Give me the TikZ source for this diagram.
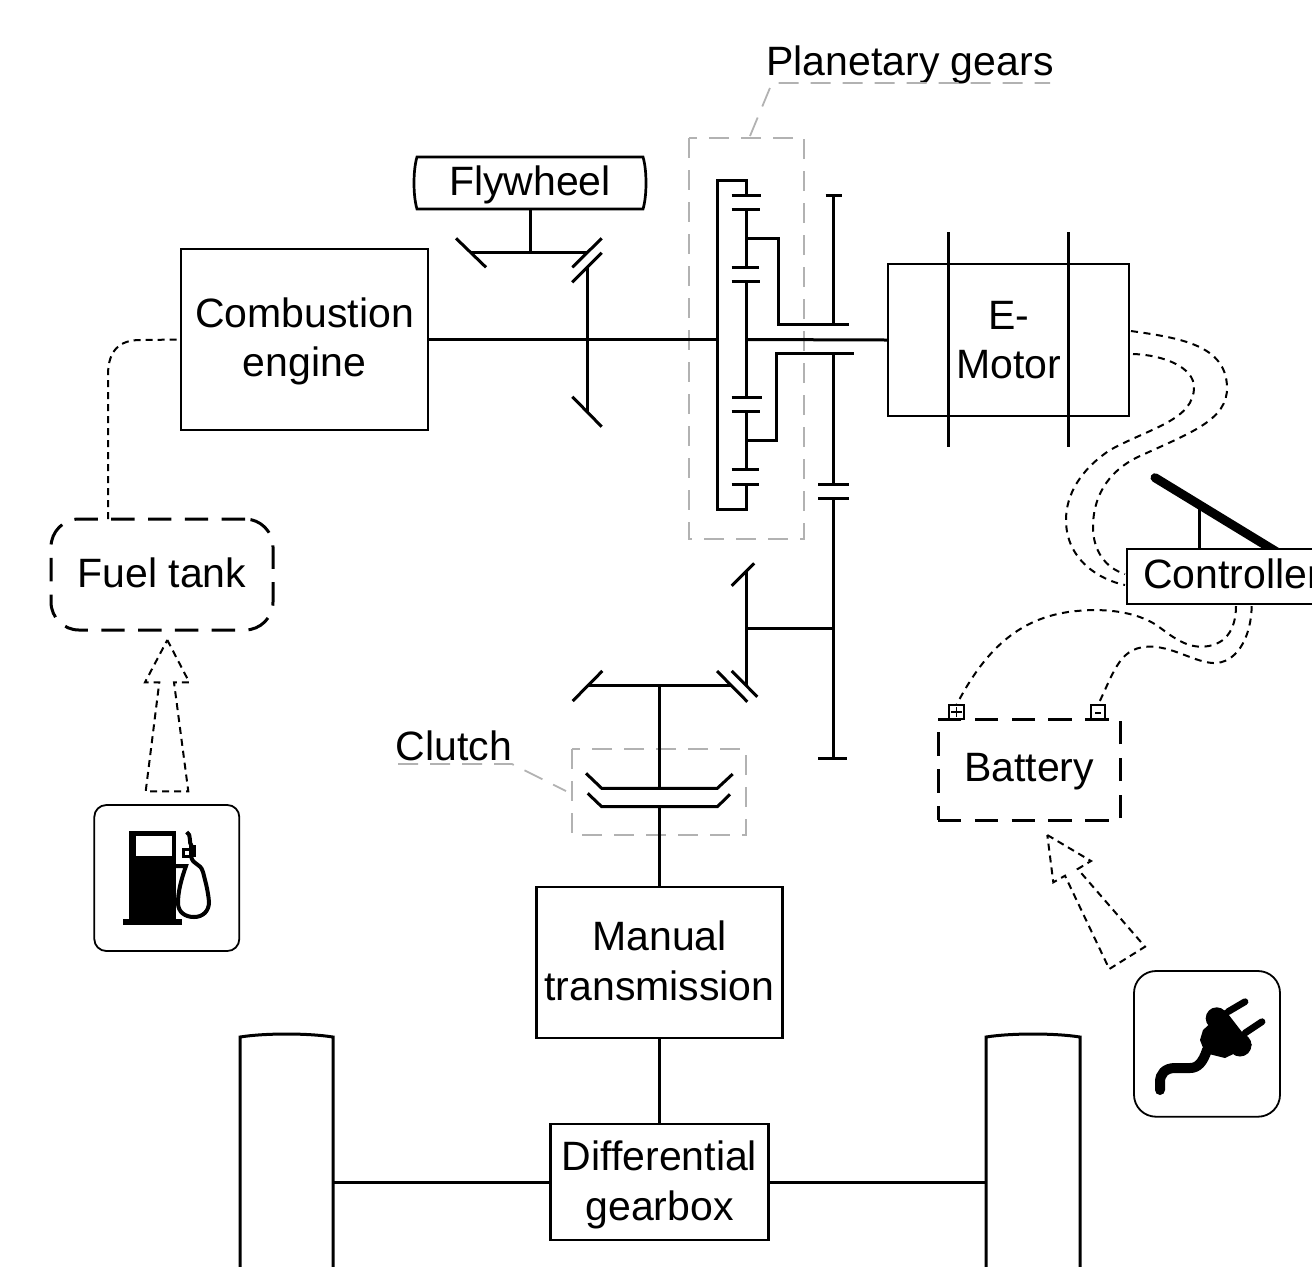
\documentclass[tikz,border=0pt]{standalone}
\usepackage{fontspec}
\setmainfont{Liberation Sans}
\usetikzlibrary{positioning}
\tikzset{
  unit/.style={draw, line width=1.35pt, inner sep=0pt, outer sep=0pt},
  inside/.style={inner sep=0pt, align=center},
  shaft/.style={line width=1.5pt, line join=miter},
  tank/.style={unit, line width=1.5pt, dash pattern=on 11.7pt off 6.7pt},
  cable/.style={line width=1pt, dash pattern=on 3.5pt off 2.8pt},
  feed/.style={line width=1pt, dash pattern=on 3.5pt off 2.5pt},
  marker/.style={line width=0.9pt, gray!60, dash pattern=on 10pt off 6pt},
  terminal/.style={draw, line width=0.9pt, inner sep=0pt, outer sep=0pt, minimum size=7.2pt},
  badge/.style={line width=0.9pt, rounded corners=8pt}
}

\begin{document}
\begin{tikzpicture}[x=0.5pt, y=-0.5pt, font=\fontsize{20.5}{24.8}\selectfont]
  \useasboundingbox (0,0) rectangle (1312,1266);
  \clip (0,0) rectangle (1312,1266);

  % main units
  \node[unit, minimum width=123.5pt, minimum height=90.5pt,
    label={[inside, yshift=-1pt]center:{Combustion\\engine}}] (engine) at (304.5,339.5) {};
  \node[unit, align=center, minimum width=120.5pt, minimum height=76pt] (motor) at (1008.5,340) {E-\\Motor};
  \node[unit, minimum width=123pt, minimum height=75.5pt,
    label={[inside, yshift=0.7pt]center:{Manual\\transmission}}] (transmission) at (659.5,962.5) {};
  \node[unit, minimum width=109pt, minimum height=58pt, below=43pt of transmission,
    label={[inside, yshift=-1.4pt]center:{Differential\\gearbox}}] (differential) {};
  \node[inner sep=0pt, outer sep=0pt, minimum width=115pt, minimum height=26.5pt] (flywheel) at (530,185) {Flywheel};
  \draw[line width=1.35pt] (417,157) -- (643,157) .. controls (647,170) and (647,196) .. (643,209)
    -- (417,209) .. controls (413,196) and (413,170) .. (417,157) -- cycle;

  % energy stores
  \node[tank, rounded corners=14pt, minimum width=111pt, minimum height=55.5pt,
    label={[inside, yshift=0.8pt]center:Fuel tank}] (fueltank) at (162,574.5) {};
  \node[tank, minimum width=91pt, minimum height=50.5pt,
    label={[inside, yshift=-1.2pt]center:Battery}] (battery) at (1029,769.5) {};
  \node[terminal] (plusT) at (956.5,712) {};
  \node[terminal] (minusT) at (1098,712) {};
  \draw[line width=0.9pt] (951,712) -- (962,712) (956.5,707) -- (956.5,717);
  \draw[line width=1.1pt] (1095,713) -- (1100.5,713);

  % labels and markers
  \node[inner sep=0pt] (planetlabel) at (910,65) {Planetary gears};
  \node[inner sep=0pt] (clutchlabel) at (454,746) {Clutch};
  \draw[marker] (689,138) rectangle (804,539);
  \draw[marker] (572,749) rectangle (746,835);
  \draw[marker] (750,136) -- (772,83) -- (1050,83);
  \draw[marker] (398,764) -- (512,764) -- (566,791);

  % flywheel branch
  \coordinate (flyB) at (530,209);
  \coordinate (flyT) at (530,252.5);
  \coordinate (flyR) at (587.3,339.5);
  \draw[shaft] (flyB) -- (flyT);
  \draw[shaft] (471,252.5) -- (587,252.5);
  \draw[shaft] (456,238.3) -- (486,267.3);
  \draw[shaft] (601.7,238.3) -- (572.3,267.3);
  \draw[shaft] (601.7,252.7) -- (572.3,282.3);
  \draw[shaft] (587.3,266.7) -- (flyR) -- (587.3,411.7);
  \draw[shaft] (572.3,396.7) -- (601.7,426.7);

  % planetary set
  \coordinate (carrierL) at (717.7,339.5);
  \coordinate (carrierR) at (746.7,339.5);
  \draw[shaft] (engine.east) -- (carrierL);
  \draw[shaft] (carrierR) -- (motor.west);
  \draw[shaft] (746.7,195) -- (746.7,180) -- (717.7,180) -- (717.7,509) -- (746.7,509) -- (746.7,484);
  \draw[shaft] (731.5,195) -- (760.5,195);
  \draw[shaft] (731.5,209.3) -- (760,209.3);
  \draw[shaft] (746.7,209.3) -- (746.7,267);
  \draw[shaft] (731.5,267) -- (758.5,267);
  \draw[shaft] (731.5,281.7) -- (760,281.7);
  \draw[shaft] (746.7,281.7) -- (746.7,397.3);
  \draw[shaft] (731.5,397.3) -- (762,397.3);
  \draw[shaft] (731.5,411.7) -- (760,411.7);
  \draw[shaft] (746.7,411.7) -- (746.7,469.7);
  \draw[shaft] (731.5,469.7) -- (758.5,469.7);
  \draw[shaft] (731.5,484) -- (758.5,484);
  \draw[shaft] (746.7,238.3) -- (778.3,238.3) -- (778.3,324.7) -- (849,324.7);
  \draw[shaft] (746.7,440.7) -- (776,440.7) -- (776,353.7) -- (853.7,353.7);

  % ring gear and output
  \draw[shaft] (825.7,195) -- (841.7,195);
  \draw[shaft] (833.7,195) -- (833.7,324.7);
  \draw[shaft] (833.7,353.7) -- (833.7,484);
  \draw[shaft] (818,484) -- (849,484);
  \draw[shaft] (818,498.7) -- (849,498.7);
  \draw[shaft] (833.7,498.7) -- (833.7,758.7);
  \draw[shaft] (818,758.7) -- (846.7,758.7);
  \draw[shaft] (746.7,628.7) -- (833.7,628.7);
  \draw[shaft] (746.7,570) -- (746.7,685);
  \draw[shaft] (754.3,563.3) -- (731.7,585.7);
  \draw[shaft] (731.7,671) -- (757.3,696.7);
  \draw[shaft] (717,671) -- (747.3,701.7);

  % clutch
  \coordinate (clutchT) at (659.5,788.3);
  \coordinate (clutchB) at (659.5,806.7);
  \draw[shaft] (588,685.7) -- (731.7,685.7);
  \draw[shaft] (602.3,671) -- (572.7,701);
  \draw[shaft] (659.5,685.7) -- (clutchT);
  \draw[shaft] (586,773.3) -- (601.7,788.3) -- (717.3,788.3) -- (732.7,774);
  \draw[shaft] (587.7,793.3) -- (601.7,806.7) -- (717.3,806.7) -- (730,794.3);
  \draw[shaft] (clutchB) -- (transmission.north);
  \draw[shaft] (transmission.south) -- (differential.north);

  % motor bars and wheels
  \draw[shaft] (948,232) -- (948,447);
  \draw[shaft] (1068,232) -- (1068,447);
  \coordinate (wheelL) at (333,1182);
  \coordinate (wheelR) at (986,1182);
  \draw[shaft] (240,1270) -- (240,1037) .. controls (265,1033) and (308,1033) .. (333,1037) -- (333,1270);
  \draw[shaft] (986,1270) -- (986,1037) .. controls (1011,1033) and (1055,1033) .. (1080,1037) -- (1080,1270);
  \draw[shaft] (differential.west |- wheelL) -- (wheelL);
  \draw[shaft] (differential.east |- wheelR) -- (wheelR);

  % pedal
  \coordinate (pedal) at (1199.5,506);
  \draw[line width=4.5pt, line cap=round] (1155,477.7) -- (1285,557);
  \node[unit, fill=white, minimum width=105pt, minimum height=27.5pt,
    label={[inside, yshift=1.4pt]center:Controller}] (controller) at (1232,576.5) {};
  \draw[shaft] (pedal) -- (pedal |- controller.north);

  % control wiring
  \coordinate (motorA) at (1131,331);
  \coordinate (motorB) at (1133,354);
  \coordinate (ctrlA) at (1125,574);
  \coordinate (ctrlB) at (1125,585);
  \coordinate (ctrlC) at (1236,606);
  \coordinate (ctrlD) at (1251.7,606);
  \draw[cable] (motorA) .. controls (1180,338) and (1226,345) .. (1227,387)
    .. controls (1228,420) and (1190,433) .. (1140,456)
    .. controls (1105,472) and (1093,500) .. (1093,527)
    .. controls (1093,550) and (1105,568) .. (ctrlA);
  \draw[cable] (motorB) .. controls (1165,355) and (1194,368) .. (1194,387)
    .. controls (1194,420) and (1150,428) .. (1110,450)
    .. controls (1080,470) and (1066,495) .. (1066,520)
    .. controls (1066,560) and (1100,580) .. (ctrlB);
  \draw[cable] (ctrlC) .. controls (1236,630) and (1225,647) .. (1200,646.7)
    .. controls (1180,646) and (1165,630) .. (1153,623)
    .. controls (1130,610) and (1100,609) .. (1080,610.7)
    .. controls (1020,615) and (985,650) .. (plusT.north);
  \draw[cable] (ctrlD) .. controls (1251,640) and (1235,664) .. (1213,663)
    .. controls (1195,662) and (1175,648) .. (1153,646.7)
    .. controls (1120,645) and (1115,670) .. (minusT.north);
  \draw[feed] (fueltank.north -| 108,519) -- (108,375) .. controls (108,350) and (120,340) .. (140,340) -- (engine.west);

  % refill arrows
  \draw[feed] (167.3,640) -- (189.3,682.3) -- (174,682.3) -- (188.3,791.3) -- (145.7,791.3) -- (159.3,682.3) -- (145,682.3) -- cycle;
  \draw[feed] (1047.3,835) -- (1091,861) -- (1077.7,869) -- (1145,946.7) -- (1109.3,969) -- (1065,875.7) -- (1053.3,882.3) -- cycle;

  % pump badge
  \draw[badge, rounded corners=6pt] (94.3,805) rectangle (239.3,951);
  \fill (129,831) rectangle (176,920);
  \fill (123.3,919) rectangle (181.7,925);
  \fill[white] (135.7,836) rectangle (171.7,856);
  \draw[line width=2pt] (176,866) -- (186,866) .. controls (181,880) and (178,892) .. (178,903)
    .. controls (178,912) and (185,917) .. (194,917) .. controls (203,917) and (209,911) .. (209,902)
    .. controls (208,890) and (205,880) .. (203,872) .. controls (200,862) and (193,866) .. (191,856);
  \draw[line width=1.5pt] (183,849) rectangle (190,856);
  \fill (189,845) rectangle (196,857);
  \draw[line width=2pt] (186.7,832) .. controls (192,835) and (188,842) .. (192,847);

  % plug badge
  \draw[badge, rounded corners=11pt] (1134,971) rectangle (1280,1116.7);
  \draw[line width=3.4pt, line cap=round] (1228,1011.7) -- (1245,1001.7);
  \draw[line width=3.4pt, line cap=round] (1245,1033) -- (1262,1021.7);
  \fill (1216.7,1018.3) circle (11);
  \fill (1240,1045) circle (11.5);
  \fill (1211,1041) circle (8.5);
  \fill (1203,1030) -- (1225,1010) -- (1252,1045) -- (1225,1058) -- (1205,1053) -- (1200,1040) -- cycle;
  \draw[line width=5pt, line cap=round] (1207,1050) .. controls (1203,1062) and (1198,1068) .. (1190,1068)
    -- (1175,1068) .. controls (1165,1068) and (1160,1074) .. (1160,1082) -- (1160,1090);
\end{tikzpicture}
\end{document}
